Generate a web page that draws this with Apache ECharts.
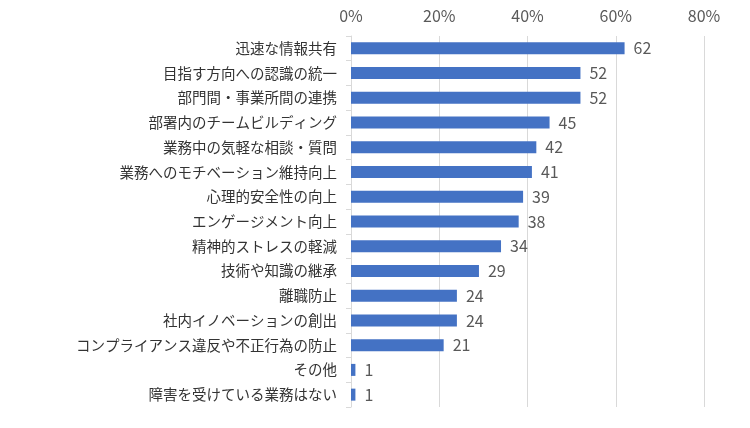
<!DOCTYPE html>
<html><head><meta charset="utf-8">
<script src="https://cdn.jsdelivr.net/npm/echarts@6/dist/echarts.min.js"></script>
<style>html,body{margin:0;padding:0;background:#fff}#c{width:750px;height:428px}</style>
</head><body><div id="c"></div>
<script>
const categories = ['迅速な情報共有','目指す方向への認識の統一','部門間・事業所間の連携','部署内のチームビルディング','業務中の気軽な相談・質問','業務へのモチベーション維持向上','心理的安全性の向上','エンゲージメント向上','精神的ストレスの軽減','技術や知識の継承','離職防止','社内イノベーションの創出','コンプライアンス違反や不正行為の防止','その他','障害を受けている業務はない'];
const values = [62,52,52,45,42,41,39,38,34,29,24,24,21,1,1];
const xTicks = [0,20,40,60,80];
const FONT = '"Noto Sans CJK JP", "Noto Sans", sans-serif';
const chart = echarts.init(document.getElementById('c'), null, {renderer:'canvas'});
chart.setOption({
  animation:false,
  textStyle:{fontFamily:FONT},
  grid:{left:351,right:46,top:36,bottom:21,containLabel:false},
  xAxis:{type:'value',position:'top',min:xTicks[0],max:xTicks[xTicks.length-1],interval:20,
    axisLabel:{formatter:'{value}%',color:'#595959',fontSize:16,fontFamily:FONT,margin:12},
    axisLine:{show:false},axisTick:{show:false},
    splitLine:{show:true,lineStyle:{color:'#d9d9d9',width:1}}},
  yAxis:{type:'category',inverse:true,data:categories,
    axisLine:{show:true,lineStyle:{color:'#d9d9d9',width:1}},
    axisTick:{show:true,length:5,lineStyle:{color:'#d9d9d9'}},
    axisLabel:{color:'#333333',fontSize:14.5,fontFamily:FONT,margin:14}},
  series:[{type:'bar',data:values,barWidth:12,
    itemStyle:{color:'#4472C4'},
    label:{show:true,position:'right',color:'#595959',fontSize:16,fontFamily:FONT,distance:9}}]
});
</script></body></html>
